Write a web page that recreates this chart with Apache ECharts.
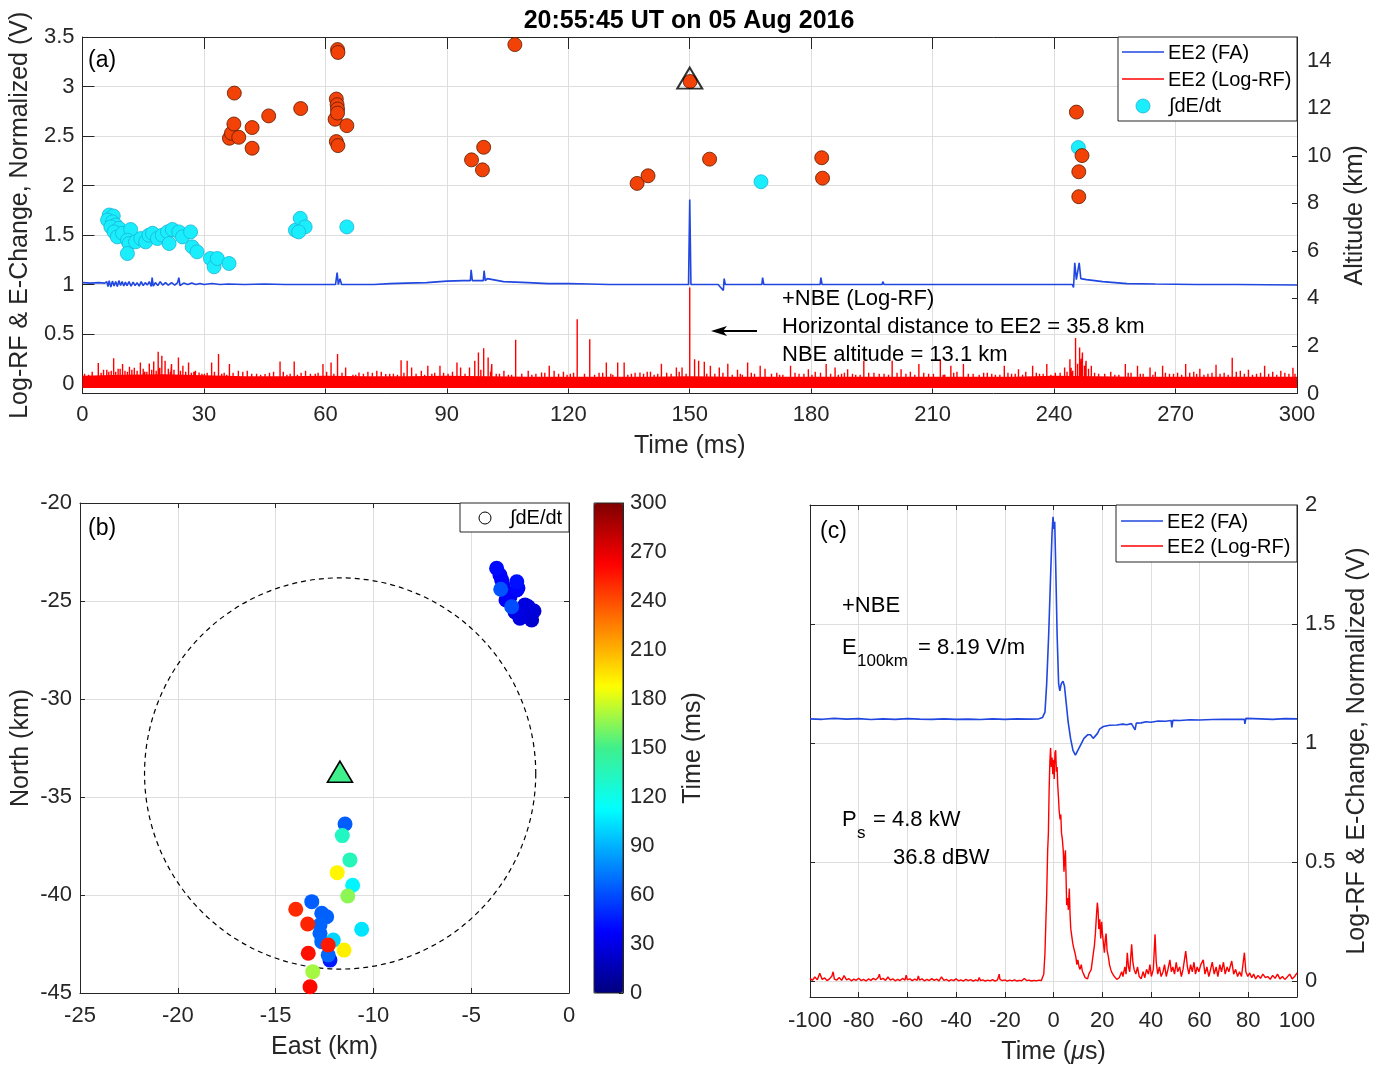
<!DOCTYPE html>
<html><head><meta charset="utf-8">
<script src="https://cdn.jsdelivr.net/npm/echarts@6/dist/echarts.min.js"></script>
<style>html,body{margin:0;padding:0;background:#fff}#c{width:1384px;height:1066px}</style>
</head><body><div id="c"></div>
<script>
// ---------------- DATA ----------------
// Panel (a)
const aTimeTicks = [0, 300, 30];
const aLeftTicks = [0, 0.5, 1, 1.5, 2, 2.5, 3, 3.5];
const aRightTicks = [0, 2, 4, 6, 8, 10, 12, 14];
// EE2 (FA) normalized E-change, [ms, V]
const faTrace = [[0,1.02],[2,1.015],[4,1.02],[5.5,1.015],[6,1.03],[6.3,0.98],[6.6,1.04],[7,0.975],[7.4,1.035],[7.8,0.985],[8.2,1.03],[8.6,0.98],[9,1.04],[9.4,0.99],[9.8,1.03],[10.2,0.985],[10.6,1.025],[11,0.99],[11.5,1.03],[12,0.985],[12.5,1.025],[13,0.99],[13.5,1.02],[14,0.985],[14.5,1.03],[15,0.99],[15.5,1.02],[16,0.995],[16.5,1.03],[17,0.98],[17.2,1.07],[17.5,0.985],[18,1.02],[18.6,0.99],[19.2,1.03],[19.8,0.995],[20.5,1.02],[21.2,0.995],[22,1.02],[22.8,0.995],[23.5,1.02],[23.8,1.07],[24.1,0.99],[25,1.015],[26,1.0],[27,1.015],[28,1.0],[29,1.01],[30,1.0],[32,1.01],[34,1.0],[36,1.005],[40,1.0],[45,1.005],[50,1.0],[55,1.0],[60,1.0],[62.5,1.0],[62.9,1.12],[63.2,1.0],[63.6,1.06],[64,1.0],[68,1.0],[72,1.0],[76,1.01],[80,1.015],[85,1.02],[90,1.035],[94,1.04],[95.8,1.04],[96,1.15],[96.3,1.04],[98,1.04],[99,1.04],[99.2,1.14],[99.5,1.04],[100,1.06],[100.4,1.04],[104,1.03],[110,1.02],[115,1.01],[120,1.01],[125,1.005],[130,1.0],[135,1.0],[140,1.0],[145,1.0],[149.7,1.0],[150,1.86],[150.3,1.0],[152,1.0],[157,1.0],[158.3,0.94],[158.5,1.06],[158.8,1.0],[163,1.0],[167.8,1.0],[168,1.07],[168.3,1.0],[175,1.0],[182.2,1.0],[182.4,1.07],[182.7,1.0],[190,1.0],[197.5,1.0],[197.7,1.03],[198,1.0],[210,1.0],[220,1.0],[230,1.0],[238,1.0],[238.2,0.98],[238.5,1.0],[244.5,1.0],[244.8,0.97],[245.1,1.22],[245.5,1.05],[245.9,1.05],[246.2,1.22],[246.6,1.06],[248,1.05],[252,1.03],[258,1.01],[265,1.005],[275,1.0],[285,1.0],[300,0.995]];
// EE2 (Log-RF): dense noise band top edge and the spikes above it
const rfBandT   = [0,10,20,30,40,50,60,70,80,90,100,110,120,130,140,150,160,170,180,190,200,210,220,230,240,250,260,270,280,290,300];
const rfBandTop = [0.08,0.09,0.095,0.085,0.075,0.075,0.08,0.075,0.075,0.08,0.075,0.07,0.07,0.07,0.07,0.075,0.07,0.07,0.07,0.07,0.07,0.07,0.07,0.07,0.08,0.075,0.07,0.07,0.07,0.07,0.07];
const rfBandFloor = -0.045;
const rfSpikes = [[1.5,0.09],[3.9,0.207],[5.2,0.14],[6.5,0.12],[7.7,0.257],[8.8,0.15],[9.9,0.197],[11.6,0.17],[12.8,0.16],[14.3,0.213],[15.4,0.12],[16.5,0.203],[17.6,0.224],[18.7,0.321],[19.6,0.281],[20.4,0.23],[21.2,0.15],[22.0,0.197],[23.7,0.264],[24.8,0.18],[26.2,0.213],[27.5,0.12],[28.8,0.112],[30.1,0.1],[31.9,0.213],[33.6,0.298],[35,0.11],[36.3,0.197],[38.5,0.13],[40.7,0.129],[43,0.1],[45.1,0.096],[47.2,0.12],[48.8,0.224],[50.5,0.09],[52.3,0.224],[54,0.11],[55.1,0.129],[57.5,0.1],[59.4,0.197],[61.4,0.213],[63.0,0.298],[65.0,0.163],[66.8,0.09],[68.3,0.112],[70.5,0.12],[72.7,0.129],[74.9,0.096],[76.8,0.1],[78.7,0.237],[80.2,0.23],[81.3,0.163],[83.7,0.129],[85.3,0.18],[87,0.11],[88.3,0.18],[90.3,0.1],[92.5,0.213],[93.4,0.163],[95.6,0.163],[96.9,0.23],[97.8,0.315],[99.1,0.358],[100.2,0.264],[101.1,0.197],[103,0.1],[104.1,0.129],[106,0.09],[107.0,0.443],[110.1,0.129],[112,0.1],[113.4,0.112],[115.3,0.18],[116.5,0.129],[118.8,0.12],[120.5,0.1],[122.2,0.65],[125.3,0.449],[127.6,0.11],[129.4,0.213],[131,0.09],[132.2,0.213],[133.8,0.213],[135.6,0.1],[137.7,0.112],[139.5,0.12],[141.2,0.09],[143.0,0.2],[145.4,0.1],[146.7,0.163],[148.1,0.163],[150.0,0.97],[151.2,0.247],[152.2,0.23],[153.6,0.22],[154.2,0.1],[155.1,0.18],[157.3,0.163],[159.4,0.2],[161.8,0.14],[163,0.09],[164.3,0.213],[166,0.1],[167.4,0.18],[168.6,0.15],[171.5,0.11],[173,0.09],[174.9,0.18],[177,0.1],[179.3,0.146],[181,0.12],[183.7,0.197],[185.9,0.163],[187.5,0.1],[189.0,0.146],[191,0.09],[193.0,0.23],[195.5,0.11],[198,0.1],[200.0,0.23],[202.2,0.146],[204.5,0.12],[206.6,0.197],[209,0.1],[211.9,0.247],[213,0.09],[214.5,0.18],[216,0.12],[217.6,0.197],[220,0.1],[223.5,0.11],[225.5,0.09],[227.7,0.18],[229.5,0.1],[231.2,0.146],[233,0.12],[234.7,0.18],[236.4,0.1],[238.2,0.197],[240.3,0.11],[242.6,0.163],[243.9,0.247],[244.6,0.13],[245.3,0.46],[246.3,0.365],[247.0,0.315],[247.9,0.23],[248.5,0.15],[249.2,0.18],[251,0.1],[254,0.12],[256,0.09],[257.6,0.197],[259,0.11],[260.6,0.18],[262,0.1],[263.7,0.163],[265,0.12],[266.8,0.18],[268.5,0.1],[270.5,0.11],[272.5,0.197],[274.5,0.12],[276,0.15],[278,0.1],[280,0.19],[282,0.11],[284,0.26],[286,0.13],[288,0.14],[290,0.1],[292,0.18],[294,0.12],[296,0.13],[298,0.1],[299,0.16]];
const rfSmallSpikes = [[0.5,0.1],[2.4,0.12],[4.6,0.11],[6.0,0.14],[7.1,0.13],[8.2,0.12],[9.3,0.15],[10.5,0.13],[11.1,0.12],[12.2,0.14],[13.5,0.13],[15.0,0.15],[15.9,0.12],[17.1,0.14],[18.2,0.13],[19.1,0.16],[21.7,0.12],[22.6,0.14],[24.2,0.13],[25.5,0.12],[26.9,0.11],[27.9,0.13],[29.5,0.1],[30.8,0.11],[32.6,0.12],[34.4,0.1],[35.6,0.09],[37.2,0.11],[39.6,0.12],[41.8,0.1],[44.0,0.09],[46.2,0.11],[49.6,0.12],[51.3,0.1],[53.1,0.09],[56.3,0.1],[58.2,0.11],[60.3,0.12],[62.1,0.1],[64.1,0.11],[67.5,0.09],[69.4,0.1],[71.6,0.11],[73.8,0.12],[75.9,0.1],[77.8,0.09],[79.4,0.11],[82.4,0.1],[84.5,0.09],[86.3,0.1],[89.2,0.11],[91.4,0.12],[94.5,0.1],[98.4,0.14],[100.8,0.12],[102.2,0.1],[105.2,0.09],[108.5,0.1],[111,0.09],[114.2,0.11],[117.6,0.1],[119.7,0.09],[121.3,0.11],[124,0.1],[126.5,0.09],[128.5,0.11],[130.5,0.1],[134.7,0.09],[136.5,0.11],[138.6,0.1],[140.3,0.12],[142.1,0.1],[144.3,0.11],[147.4,0.12],[149.1,0.1],[156.2,0.1],[158.2,0.11],[160.5,0.09],[162.5,0.1],[165.2,0.11],[170.2,0.1],[172.2,0.09],[176,0.11],[178.2,0.1],[180.2,0.09],[182.3,0.11],[184.8,0.1],[186.7,0.09],[188.2,0.11],[190.2,0.1],[192.1,0.09],[194.2,0.11],[196.8,0.1],[199.1,0.09],[201.2,0.11],[203.4,0.1],[205.6,0.09],[207.8,0.11],[210.2,0.1],[212.6,0.09],[215.2,0.11],[218.8,0.1],[221.5,0.09],[222.6,0.11],[224.6,0.1],[226.6,0.09],[228.6,0.11],[230.4,0.1],[232.2,0.09],[235.6,0.11],[237.3,0.1],[239.2,0.09],[241.5,0.11],[243.2,0.12],[244.2,0.16],[245.8,0.2],[246.7,0.25],[247.5,0.18],[250,0.11],[252.5,0.1],[255,0.09],[258.3,0.11],[261.3,0.1],[264.4,0.09],[267.5,0.11],[269.5,0.1],[271.5,0.09],[273.5,0.11],[275.2,0.1],[277,0.09],[279,0.11],[281,0.1],[283,0.09],[285,0.12],[287,0.1],[289,0.09],[291,0.11],[293,0.1],[295,0.09],[297,0.11],[299.5,0.1]];
// Source altitudes [ms, km]
const logRfSources = [[36.3,10.74],[36.8,10.95],[37.4,11.34],[37.5,12.64],[38.6,10.78],[41.9,11.19],[41.9,10.32],[46.0,11.68],[53.9,11.99],[62.4,11.54],[62.7,12.39],[62.7,10.60],[62.9,12.15],[63.0,11.97],[63.0,11.80],[63.0,14.47],[63.1,14.35],[63.1,10.43],[65.3,11.27],[96.1,9.83],[98.8,9.41],[99.1,10.36],[106.8,14.68],[137.0,8.84],[139.7,9.16],[150.1,13.13],[154.9,9.86],[182.6,9.92],[182.8,9.06],[245.5,11.84],[246.1,9.33],[246.1,8.28],[246.9,10.01]];
const dEdtSources = [[6.6,7.51],[7.6,7.47],[6.2,7.30],[7.4,7.22],[8.2,7.09],[7.0,7.01],[9.0,6.95],[7.8,6.80],[8.6,6.59],[9.9,6.74],[11.9,6.90],[11.1,6.45],[11.5,6.31],[11.1,5.89],[13.1,6.38],[14.4,6.52],[15.6,6.38],[16.4,6.66],[17.3,6.74],[18.5,6.52],[19.7,6.66],[21.0,6.80],[21.4,6.31],[22.2,6.90],[23.8,6.80],[24.7,6.59],[26.7,6.80],[27.1,6.17],[28.3,5.96],[31.6,5.68],[32.5,5.33],[33.3,5.68],[36.2,5.47],[52.6,6.87],[53.8,7.37],[55.0,7.01],[53.4,6.80],[65.3,7.01],[167.6,8.91],[246.0,10.35]];
const nbeSource = [[150, 13.1]];
// Panel (b): [East km, North km, time ms]
const bSources = [[-1.91,-25.97,24],[-2.08,-25.63,25],[-1.79,-25.51,26],[-2.08,-25.29,27],[-2.25,-25.20,28],[-2.51,-25.88,28],[-2.76,-25.56,30],[-3.37,-24.23,33],[-3.53,-23.67,36],[-3.02,-24.78,34],[-3.44,-23.93,37],[-3.22,-24.95,35],[-3.70,-23.33,40],[-2.67,-24.44,38],[-2.61,-24.34,39],[-2.67,-24.02,42],[-12.22,-43.32,45],[-2.93,-25.29,60],[-3.49,-24.40,62],[-11.45,-36.38,65],[-13.15,-40.34,65],[-12.64,-40.93,66],[-12.39,-41.11,66],[-12.73,-41.53,67],[-12.73,-41.95,67],[-12.64,-42.38,68],[-12.31,-43.06,68],[-12.05,-42.30,100],[-10.60,-41.75,105],[-11.06,-39.50,110],[-11.59,-36.97,132],[-11.20,-38.21,135],[-11.31,-40.05,165],[-13.10,-43.91,170],[-11.85,-38.86,190],[-11.50,-42.81,192],[-13.97,-40.73,250],[-13.36,-41.48,252],[-12.31,-42.55,255],[-13.33,-42.97,258],[-13.24,-44.68,260]];
const bNbe = [[-11.71,-33.71,150]];
const bRing = [[-11.7,-33.8,10]];   // centre East, North and radius (km)
const bTicksX = [-25, 0, 5];
const bTicksY = [-45, -20, 5];
const colorbarTicks = [0, 300, 30];
// Panel (c): [µs, V]
const cFA = [[-100,1.102],[-95,1.100],[-90,1.104],[-85,1.101],[-80,1.103],[-75,1.099],[-70,1.102],[-65,1.100],[-60,1.103],[-55,1.101],[-50,1.100],[-45,1.102],[-40,1.100],[-35,1.101],[-30,1.099],[-25,1.102],[-20,1.100],[-15,1.102],[-10,1.101],[-6,1.102],[-4.5,1.108],[-3.5,1.13],[-2.8,1.25],[-2,1.45],[-1.2,1.70],[-0.6,1.88],[-0.2,1.95],[0.2,1.90],[0.5,1.93],[0.9,1.75],[1.5,1.45],[2.1,1.25],[2.6,1.22],[3.2,1.25],[3.9,1.26],[4.5,1.24],[5.2,1.17],[6,1.09],[7,1.02],[8,0.97],[9,0.95],[9.8,0.955],[11,0.99],[12.5,1.02],[14,1.035],[15.2,1.035],[16.3,1.02],[17,1.015],[18,1.04],[19,1.06],[20.5,1.07],[23,1.075],[26,1.076],[28.5,1.08],[30,1.077],[32,1.082],[33.5,1.056],[34,1.084],[36,1.085],[38,1.09],[40,1.088],[43,1.093],[46,1.092],[48.3,1.095],[48.6,1.066],[49,1.096],[52,1.095],[56,1.098],[60,1.097],[65,1.099],[70,1.1],[75,1.1],[78.4,1.1],[78.6,1.081],[79,1.104],[85,1.102],[90,1.1],[95,1.103],[100,1.102]];
const cRF = [[-100,0.012],[-99,0.004],[-98,0.018],[-97,0.006],[-96,0.034],[-95,0.008],[-94,0.014],[-93,0.003],[-92,0.01],[-91,0.022],[-90.5,0.04],[-90,0.009],[-89,0.005],[-88,0.016],[-87,0.004],[-86,0.024],[-85,0.006],[-84,0.011],[-83,0.002],[-82,0.009],[-81,0.004],[-80,0.013],[-79,0.003],[-78,0.008],[-77,0.001],[-76,0.01],[-75,0.004],[-74,0.012],[-73,0.006],[-72,0.016],[-71.5,0.03],[-71,0.007],[-70,0.012],[-69,0.004],[-68,0.018],[-67,0.005],[-66,0.01],[-65,0.002],[-64,0.008],[-63,0.003],[-62,0.012],[-61,0.005],[-60.5,0.026],[-60,0.006],[-59,0.01],[-58,0.003],[-57,0.009],[-56,0.004],[-55.5,0.022],[-55,0.005],[-54,0.01],[-53,0.002],[-52,0.008],[-51,0.003],[-50,0.011],[-49,0.004],[-48,0.009],[-47,0.002],[-46,0.018],[-45,0.004],[-44,0.008],[-43,0.001],[-42,0.007],[-41,0.003],[-40,0.01],[-39,0.002],[-38,0.006],[-37,0.001],[-36,0.008],[-35,0.003],[-34,0.007],[-33,0.001],[-32,0.006],[-31,0.002],[-30.5,0.016],[-30,0.003],[-29,0.006],[-28,0.001],[-27,0.005],[-26,0.002],[-25,0.007],[-24,0.001],[-23,0.006],[-22.3,0.03],[-22,0.008],[-21,0.003],[-20,0.006],[-19,0.001],[-18,0.005],[-17,0.002],[-16,0.006],[-15,0.001],[-14,0.004],[-13,0.002],[-12,0.012],[-11,0.003],[-10,0.005],[-9,0.001],[-8,0.004],[-7,0.002],[-6,0.005],[-5,0.003],[-4.5,0.01],[-4,0.03],[-3.5,0.12],[-3.1,0.26],[-2.8,0.36],[-2.4,0.55],[-2.1,0.62],[-1.8,0.80],[-1.5,0.92],[-1.2,0.98],[-0.9,0.90],[-0.6,0.94],[-0.3,0.87],[0,0.93],[0.3,0.85],[0.6,0.96],[0.9,0.97],[1.2,0.88],[1.5,0.90],[1.7,0.83],[2.0,0.78],[2.3,0.72],[2.7,0.68],[3.0,0.70],[3.3,0.62],[3.6,0.60],[4.0,0.55],[4.3,0.46],[4.6,0.52],[4.9,0.55],[5.2,0.42],[5.4,0.32],[5.8,0.35],[6.1,0.30],[6.5,0.39],[6.8,0.28],[7.1,0.22],[7.5,0.19],[7.9,0.16],[8.3,0.14],[8.8,0.12],[9.2,0.10],[9.6,0.07],[10.0,0.09],[10.5,0.06],[10.9,0.05],[11.4,0.07],[11.9,0.04],[12.4,0.03],[13.0,0.015],[13.5,0.02],[14.0,0.01],[14.5,0.03],[15.0,0.04],[15.5,0.05],[16.0,0.09],[16.4,0.12],[16.8,0.15],[17.2,0.20],[17.6,0.27],[18.0,0.33],[18.3,0.30],[18.6,0.22],[19.0,0.26],[19.4,0.18],[19.8,0.25],[20.1,0.20],[20.5,0.16],[20.9,0.12],[21.3,0.18],[21.6,0.20],[22.0,0.13],[22.5,0.106],[23.0,0.07],[23.5,0.05],[24,0.036],[24.5,0.03],[25,0.02],[26,0.008],[27,0.015],[28,0.04],[28.5,0.02],[29.3,0.06],[29.8,0.03],[30.3,0.12],[30.8,0.06],[31.3,0.04],[32.1,0.155],[32.6,0.08],[33.1,0.05],[33.8,0.03],[34.5,0.06],[35.2,0.02],[36,0.01],[36.8,0.04],[37.5,0.015],[38.2,0.05],[39,0.03],[39.6,0.07],[40.2,0.02],[41,0.05],[41.7,0.197],[42.2,0.08],[42.8,0.03],[43.5,0.06],[44.2,0.02],[45,0.04],[45.6,0.07],[46.3,0.02],[47,0.05],[47.8,0.09],[48.4,0.04],[49,0.06],[49.7,0.03],[50.4,0.08],[51,0.04],[51.8,0.06],[52.5,0.02],[53.2,0.05],[54.3,0.127],[55,0.06],[55.6,0.03],[56.3,0.07],[57,0.04],[57.7,0.08],[58.3,0.03],[59,0.06],[59.7,0.04],[60.5,0.07],[61.5,0.09],[62.2,0.03],[63,0.06],[63.8,0.02],[64.5,0.05],[65.2,0.08],[66,0.03],[66.8,0.06],[67.5,0.02],[68.3,0.07],[69,0.04],[69.8,0.08],[70.5,0.03],[71.3,0.06],[72,0.04],[73.2,0.085],[74,0.03],[74.8,0.05],[75.6,0.02],[76.4,0.04],[77.2,0.02],[78.4,0.12],[79,0.04],[79.8,0.02],[80.6,0.035],[81.4,0.015],[82.2,0.03],[83,0.01],[84,0.025],[85,0.012],[86,0.03],[87,0.015],[88,0.02],[89,0.008],[90,0.025],[91,0.012],[92,0.03],[93,0.01],[94,0.02],[95,0.008],[96,0.018],[97,0.03],[98,0.01],[99,0.02],[100,0.035]];
const cTicksX = [-100, 100, 20];
const cRightTicks = [0, 0.5, 1, 1.5, 2];

// ---------------- STYLE ----------------
const FONT = '"Liberation Sans", Arial, Helvetica, sans-serif';
const INK = '#262626';
const GRIDC = '#dedede';
const BLUE = '#2047e0';
const RED = '#ff0000';
const CYAN = '#1aeefc', CYAN_EDGE = '#1ab4d6';
const ORANGE = '#f24208', ORANGE_EDGE = '#5a1c00';
const JET = ['#00007f','#0000ff','#007fff','#00ffff','#3ff08c','#ffff00','#ff7f00','#ff0000','#7f0000'];

function ax(o) {
  const base = {
    axisLine: {show: true, onZero: false, lineStyle: {color: INK, width: 1}},
    axisTick: {show: true, inside: true, length: o.tickLen || 5, lineStyle: {color: INK, width: 1}},
    axisLabel: {show: o.labels !== false, color: INK, fontSize: 22, fontFamily: FONT, margin: o.margin || 8},
    splitLine: {show: !!o.split, lineStyle: {color: GRIDC, width: 1}},
    nameTextStyle: {color: INK, fontSize: 25, fontFamily: FONT},
  };
  if (o.custom) { base.axisTick.customValues = o.custom; base.axisLabel.customValues = o.custom; }
  const r = Object.assign({type: 'value'}, o, base);
  delete r.tickLen; delete r.labels; delete r.margin; delete r.split; delete r.custom;
  if (o.nameRich) { r.nameTextStyle.rich = o.nameRich; delete r.nameRich; }
  return r;
}

// Build the Log-RF spike comb from the read spikes
const rfSorted = rfSpikes.concat(rfSmallSpikes).sort((p, q) => p[0] - q[0]);
const rfComb = [];
rfSorted.forEach(s => { rfComb.push([s[0], 0.0], [s[0], s[1]], [s[0], 0.0]); });

const chart = echarts.init(document.getElementById('c'), null, {renderer: 'canvas'});
const option = {
  animation: false,
  backgroundColor: '#fff',
  grid: [
    {left: 80, top: 37, width: 1217, height: 356.5},
    {left: 80, top: 503, width: 489, height: 490},
    {left: 810, top: 505, width: 487, height: 492},
    {left: 594, top: 503, width: 29, height: 490, show: true, borderColor: INK, borderWidth: 1, backgroundColor: 'transparent', z: 10}
  ],
  xAxis: [
    ax({gridIndex: 0, position: 'bottom', min: aTimeTicks[0], max: aTimeTicks[1], interval: aTimeTicks[2], split: true, margin: 10, name: 'Time (ms)', nameLocation: 'middle', nameGap: 40}),
    ax({gridIndex: 0, position: 'top', min: aTimeTicks[0], max: aTimeTicks[1], interval: aTimeTicks[2], labels: false, tickLen: 12}),
    ax({gridIndex: 1, position: 'bottom', min: bTicksX[0], max: bTicksX[1], interval: bTicksX[2], split: true, margin: 12, name: 'East (km)', nameLocation: 'middle', nameGap: 42}),
    ax({gridIndex: 1, position: 'top', min: bTicksX[0], max: bTicksX[1], interval: bTicksX[2], labels: false}),
    ax({gridIndex: 2, position: 'bottom', min: cTicksX[0], max: cTicksX[1], interval: cTicksX[2], split: true, margin: 13, name: 'Time ({i|μ}s)', nameLocation: 'middle', nameGap: 43, nameRich: {i: {fontStyle: 'italic', fontSize: 25, fontFamily: FONT, color: INK}}}),
    ax({gridIndex: 2, position: 'top', min: cTicksX[0], max: cTicksX[1], interval: cTicksX[2], labels: false}),
    {type: 'value', gridIndex: 3, min: 0, max: 1, show: false}
  ],
  yAxis: [
    ax({gridIndex: 0, position: 'left', min: -0.1, max: 3.5, custom: aLeftTicks, split: true, tickLen: 12, margin: 8, name: 'Log-RF & E-Change, Normalized (V)', nameLocation: 'middle', nameGap: 44}),
    ax({gridIndex: 0, position: 'right', min: 0, max: 15, custom: aRightTicks, margin: 10, name: 'Altitude (km)', nameLocation: 'middle', nameGap: 44}),
    ax({gridIndex: 1, position: 'left', min: bTicksY[0], max: bTicksY[1], interval: bTicksY[2], split: true, margin: 8, name: 'North (km)', nameLocation: 'middle', nameGap: 46}),
    ax({gridIndex: 1, position: 'right', min: bTicksY[0], max: bTicksY[1], interval: bTicksY[2], labels: false}),
    ax({gridIndex: 2, position: 'right', min: -0.066, max: 2, custom: cRightTicks, split: true, margin: 8, name: 'Log-RF & E-Change, Normalized (V)', nameLocation: 'middle', nameGap: 48}),
    ax({gridIndex: 2, position: 'left', min: -0.066, max: 2, custom: cRightTicks, labels: false}),
    ax({gridIndex: 3, position: 'right', min: colorbarTicks[0], max: colorbarTicks[1], interval: colorbarTicks[2], tickLen: 4, margin: 7, name: 'Time (ms)', nameLocation: 'middle', nameGap: 58})
  ],
  visualMap: [{
    type: 'continuous', min: 0, max: 300, dimension: 2, seriesIndex: [6, 7],
    inRange: {color: JET}, orient: 'vertical', left: 594, top: 503,
    itemWidth: 29, itemHeight: 490, padding: 0, calculable: false, showLabel: false,
    hoverLink: false, realtime: false, z: 5
  }],
  series: [
    {type: 'line', name: 'EE2 (FA)', xAxisIndex: 0, yAxisIndex: 0, data: faTrace, showSymbol: false, lineStyle: {color: BLUE, width: 1.6}, z: 2, silent: true},
    {type: 'line', name: 'rfBand', xAxisIndex: 0, yAxisIndex: 0, data: rfBandT.map((t, i) => [t, rfBandTop[i]]), showSymbol: false, lineStyle: {width: 0}, areaStyle: {color: RED, opacity: 1, origin: rfBandFloor}, z: 2, silent: true},
    {type: 'line', name: 'EE2 (Log-RF)', xAxisIndex: 0, yAxisIndex: 0, data: rfComb, showSymbol: false, lineStyle: {color: RED, width: 1.4}, z: 3, silent: true},
    {type: 'scatter', name: 'dEdt', xAxisIndex: 0, yAxisIndex: 1, data: dEdtSources, symbolSize: 14, itemStyle: {color: CYAN, borderColor: CYAN_EDGE, borderWidth: 0.8, opacity: 1}, z: 4, silent: true},
    {type: 'scatter', name: 'logrf', xAxisIndex: 0, yAxisIndex: 1, data: logRfSources, symbolSize: 14, itemStyle: {color: ORANGE, borderColor: ORANGE_EDGE, borderWidth: 0.8, opacity: 1}, z: 5, silent: true},
    {type: 'scatter', name: 'nbe', xAxisIndex: 0, yAxisIndex: 1, data: nbeSource, symbol: 'triangle', symbolSize: [25, 21], symbolOffset: [0, -4], itemStyle: {color: 'rgba(0,0,0,0)', borderColor: '#000', borderWidth: 2}, z: 6, silent: true},
    {type: 'scatter', name: 'bsrc', xAxisIndex: 2, yAxisIndex: 2, data: bSources, symbolSize: 15, itemStyle: {opacity: 1, borderWidth: 0}, z: 4, silent: true},
    {type: 'scatter', name: 'bnbe', xAxisIndex: 2, yAxisIndex: 2, data: bNbe, symbol: 'triangle', symbolSize: [25, 21], itemStyle: {opacity: 1, borderColor: '#000', borderWidth: 1.6}, z: 5, silent: true},
    {type: 'custom', name: 'ring', xAxisIndex: 2, yAxisIndex: 2, data: bRing, silent: true, z: 3,
      renderItem: function (params, api) {
        const c = api.coord([api.value(0), api.value(1)]);
        const s = api.size([api.value(2), api.value(2)]);
        return {type: 'circle', shape: {cx: c[0], cy: c[1], r: s[0]}, style: {fill: 'none', stroke: '#000', lineWidth: 1.2, lineDash: [5, 4]}};
      }},
    {type: 'line', name: 'cFA', xAxisIndex: 4, yAxisIndex: 4, data: cFA, showSymbol: false, lineStyle: {color: BLUE, width: 1.6}, z: 3, silent: true},
    {type: 'line', name: 'cRF', xAxisIndex: 4, yAxisIndex: 4, data: cRF, showSymbol: false, lineStyle: {color: RED, width: 1.4}, z: 3, silent: true}
  ],
  graphic: [
    {type: 'text', z: 100, style: {text: '20:55:45 UT on 05 Aug 2016', x: 689, y: 21, textAlign: 'center', textVerticalAlign: 'middle', font: 'bold 25px ' + FONT, fill: '#000'}},
    {type: 'text', z: 100, style: {text: '(a)', x: 88, y: 61, textVerticalAlign: 'middle', font: '23px ' + FONT, fill: '#000'}},
    {type: 'text', z: 100, style: {text: '(b)', x: 88, y: 529, textVerticalAlign: 'middle', font: '23px ' + FONT, fill: '#000'}},
    {type: 'text', z: 100, style: {text: '(c)', x: 820, y: 532, textVerticalAlign: 'middle', font: '23px ' + FONT, fill: '#000'}},
    // legend (a)
    {type: 'rect', z: 100, shape: {x: 1118, y: 37, width: 179, height: 84}, style: {fill: '#fff', stroke: INK, lineWidth: 1}},
    {type: 'line', z: 101, shape: {x1: 1122, y1: 52, x2: 1164, y2: 52}, style: {stroke: BLUE, lineWidth: 1.5}},
    {type: 'line', z: 101, shape: {x1: 1122, y1: 79, x2: 1164, y2: 79}, style: {stroke: RED, lineWidth: 1.5}},
    {type: 'circle', z: 101, shape: {cx: 1143, cy: 106, r: 7}, style: {fill: CYAN, stroke: CYAN_EDGE, lineWidth: 0.8}},
    {type: 'text', z: 101, style: {text: 'EE2 (FA)', x: 1168, y: 53, textVerticalAlign: 'middle', font: '20px ' + FONT, fill: '#000'}},
    {type: 'text', z: 101, style: {text: 'EE2 (Log-RF)', x: 1168, y: 80, textVerticalAlign: 'middle', font: '20px ' + FONT, fill: '#000'}},
    {type: 'text', z: 101, style: {text: '∫dE/dt', x: 1169, y: 106, textVerticalAlign: 'middle', font: '20px ' + FONT, fill: '#000'}},
    // annotation (a)
    {type: 'text', z: 100, style: {text: '+NBE (Log-RF)', x: 782, y: 299, textVerticalAlign: 'middle', font: '22px ' + FONT, fill: '#000'}},
    {type: 'text', z: 100, style: {text: 'Horizontal distance to EE2 = 35.8 km', x: 782, y: 327, textVerticalAlign: 'middle', font: '22px ' + FONT, fill: '#000'}},
    {type: 'text', z: 100, style: {text: 'NBE altitude = 13.1 km', x: 782, y: 355, textVerticalAlign: 'middle', font: '22px ' + FONT, fill: '#000'}},
    {type: 'line', z: 100, shape: {x1: 757, y1: 331, x2: 718, y2: 331}, style: {stroke: '#000', lineWidth: 2}},
    {type: 'polygon', z: 100, shape: {points: [[711, 331], [727, 326], [723, 331], [727, 336]]}, style: {fill: '#000'}},
    // legend (b)
    {type: 'rect', z: 100, shape: {x: 460, y: 503, width: 109, height: 29}, style: {fill: '#fff', stroke: INK, lineWidth: 1}},
    {type: 'circle', z: 101, shape: {cx: 485, cy: 518, r: 6}, style: {fill: 'none', stroke: '#000', lineWidth: 1}},
    {type: 'text', z: 101, style: {text: '∫dE/dt', x: 510, y: 518, textVerticalAlign: 'middle', font: '20px ' + FONT, fill: '#000'}},
    // legend (c)
    {type: 'rect', z: 100, shape: {x: 1116, y: 505, width: 181, height: 57}, style: {fill: '#fff', stroke: INK, lineWidth: 1}},
    {type: 'line', z: 101, shape: {x1: 1121, y1: 521, x2: 1163, y2: 521}, style: {stroke: BLUE, lineWidth: 1.5}},
    {type: 'line', z: 101, shape: {x1: 1121, y1: 546, x2: 1163, y2: 546}, style: {stroke: RED, lineWidth: 1.5}},
    {type: 'text', z: 101, style: {text: 'EE2 (FA)', x: 1167, y: 522, textVerticalAlign: 'middle', font: '20px ' + FONT, fill: '#000'}},
    {type: 'text', z: 101, style: {text: 'EE2 (Log-RF)', x: 1167, y: 547, textVerticalAlign: 'middle', font: '20px ' + FONT, fill: '#000'}},
    // annotations (c)
    {type: 'text', z: 100, style: {text: '+NBE', x: 842, y: 606, textVerticalAlign: 'middle', font: '22px ' + FONT, fill: '#000'}},
    {type: 'text', z: 100, style: {text: 'E', x: 842, y: 648, textVerticalAlign: 'middle', font: '22px ' + FONT, fill: '#000'}},
    {type: 'text', z: 100, style: {text: '100km', x: 857, y: 661, textVerticalAlign: 'middle', font: '17px ' + FONT, fill: '#000'}},
    {type: 'text', z: 100, style: {text: '= 8.19 V/m', x: 918, y: 648, textVerticalAlign: 'middle', font: '22px ' + FONT, fill: '#000'}},
    {type: 'text', z: 100, style: {text: 'P', x: 842, y: 820, textVerticalAlign: 'middle', font: '22px ' + FONT, fill: '#000'}},
    {type: 'text', z: 100, style: {text: 's', x: 857, y: 833, textVerticalAlign: 'middle', font: '17px ' + FONT, fill: '#000'}},
    {type: 'text', z: 100, style: {text: '= 4.8 kW', x: 873, y: 820, textVerticalAlign: 'middle', font: '22px ' + FONT, fill: '#000'}},
    {type: 'text', z: 100, style: {text: '36.8 dBW', x: 893, y: 858, textVerticalAlign: 'middle', font: '22px ' + FONT, fill: '#000'}}
  ]
};
chart.setOption(option);
</script></body></html>
